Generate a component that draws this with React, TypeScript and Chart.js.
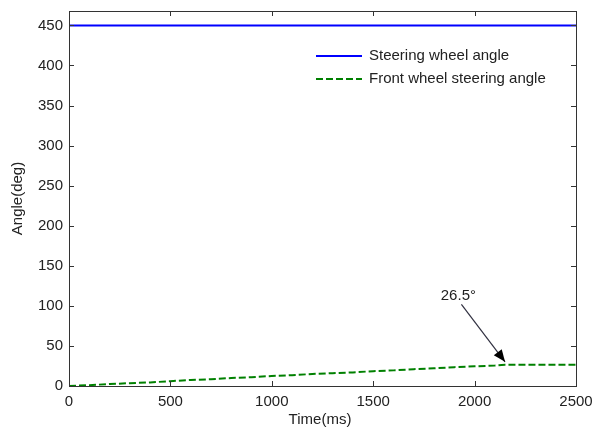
import { useEffect, useRef } from "react";
import { Chart, registerables } from "chart.js";

Chart.register(...registerables);

// Steering wheel input (held constant)
const wheelTime = [0, 2500];
const wheelAngle = [450, 450];

// Resulting front wheel steering angle
const frontTime = [0, 100, 200, 300, 400, 500, 600, 700, 800, 900, 1000, 1100, 1200, 1300, 1400, 1500, 1600, 1700, 1800, 1900, 2000, 2100, 2150, 2300, 2500];
const frontAngle = [0, 1, 2.5, 3.5, 4.5, 6, 7.5, 8.5, 10, 11, 12.5, 13.5, 15, 16, 17, 18.5, 19.5, 21, 22, 23.5, 24.5, 25.5, 26.5, 26.5, 26.5];

const xTicks = [0, 500, 1000, 1500, 2000, 2500];
const yTicks = [0, 50, 100, 150, 200, 250, 300, 350, 400, 450];

const seriesNames = ["Steering wheel angle", "Front wheel steering angle"];
const peakTime = 2150;
const peakValue = 26.5;
const peakLabel = "26.5°";

const FONT = "'Liberation Sans', Arial, sans-serif";
const FONT_SIZE = 15;
const AXIS = "#333333";
const TEXT = "#222222";
const BLUE = "#0000ff";
const GREEN = "#008000";
const DASH = [7, 3];

const framePlugin = {
  id: "frame",
  afterDraw(chart: any) {
    const { ctx, chartArea: a, scales } = chart;
    const xs = scales.x;
    const ys = scales.y;
    ctx.save();

    // axes box
    ctx.strokeStyle = AXIS;
    ctx.lineWidth = 1;
    ctx.strokeRect(Math.round(a.left) + 0.5, Math.round(a.top) + 0.5, Math.round(a.right - a.left), Math.round(a.bottom - a.top));

    // inward ticks on all four sides
    const tl = 5;
    ctx.beginPath();
    for (const v of xTicks) {
      const px = Math.round(xs.getPixelForValue(v)) + 0.5;
      ctx.moveTo(px, a.bottom);
      ctx.lineTo(px, a.bottom - tl);
      ctx.moveTo(px, a.top);
      ctx.lineTo(px, a.top + tl);
    }
    for (const v of yTicks) {
      const py = Math.round(ys.getPixelForValue(v)) + 0.5;
      ctx.moveTo(a.left, py);
      ctx.lineTo(a.left + tl, py);
      ctx.moveTo(a.right, py);
      ctx.lineTo(a.right - tl, py);
    }
    ctx.stroke();

    // axis titles
    ctx.fillStyle = TEXT;
    ctx.font = `${FONT_SIZE}px ${FONT}`;
    ctx.textAlign = "center";
    ctx.textBaseline = "middle";
    ctx.fillText("Time(ms)", 320, 420);
    ctx.save();
    ctx.translate(18, (a.top + a.bottom) / 2);
    ctx.rotate(-Math.PI / 2);
    ctx.fillText("Angle(deg)", 0, 0);
    ctx.restore();

    // legend
    const lx0 = 316;
    const lx1 = 362;
    const rows = [
      { y: 56, color: BLUE, dash: [] as number[] },
      { y: 79, color: GREEN, dash: DASH },
    ];
    ctx.textAlign = "left";
    rows.forEach((r, i) => {
      ctx.beginPath();
      ctx.setLineDash(r.dash);
      ctx.strokeStyle = r.color;
      ctx.lineWidth = 2;
      ctx.moveTo(lx0, r.y);
      ctx.lineTo(lx1, r.y);
      ctx.stroke();
      ctx.setLineDash([]);
      ctx.fillStyle = TEXT;
      ctx.fillText(seriesNames[i], 369, r.y);
    });

    // annotation arrow pointing at the settled value
    const tipX = xs.getPixelForValue(peakTime);
    const tipY = ys.getPixelForValue(peakValue) - 3;
    const sx = xs.getPixelForValue(1935);
    const sy = ys.getPixelForValue(102);
    ctx.strokeStyle = "#303040";
    ctx.fillStyle = "#000";
    ctx.lineWidth = 1.2;
    ctx.beginPath();
    ctx.moveTo(sx, sy);
    ctx.lineTo(tipX, tipY);
    ctx.stroke();
    const ang = Math.atan2(tipY - sy, tipX - sx);
    const hl = 12;
    const hw = 5;
    const bx = tipX - hl * Math.cos(ang);
    const by = tipY - hl * Math.sin(ang);
    ctx.beginPath();
    ctx.moveTo(tipX, tipY);
    ctx.lineTo(bx + hw * Math.sin(ang), by - hw * Math.cos(ang));
    ctx.lineTo(bx - hw * Math.sin(ang), by + hw * Math.cos(ang));
    ctx.closePath();
    ctx.fill();

    ctx.fillStyle = TEXT;
    ctx.textAlign = "center";
    ctx.fillText(peakLabel, xs.getPixelForValue(1920), ys.getPixelForValue(113));

    ctx.restore();
  },
};

export default function App() {
  const ref = useRef<HTMLCanvasElement>(null);

  useEffect(() => {
    document.body.style.margin = "0";
    const canvas = ref.current;
    if (!canvas) return;
    const chart = new Chart(canvas, {
      type: "line",
      data: {
        datasets: [
          {
            label: seriesNames[0],
            data: wheelTime.map((t, i) => ({ x: t, y: wheelAngle[i] })),
            borderColor: BLUE,
            borderWidth: 2,
            pointRadius: 0,
            tension: 0,
          },
          {
            label: seriesNames[1],
            data: frontTime.map((t, i) => ({ x: t, y: frontAngle[i] })),
            borderColor: GREEN,
            borderWidth: 2,
            borderDash: DASH,
            pointRadius: 0,
            tension: 0,
          },
        ],
      },
      options: {
        animation: false,
        responsive: false,
        maintainAspectRatio: false,
        layout: { padding: { top: 11, right: 24, left: 0, bottom: 0 } },
        plugins: { legend: { display: false }, tooltip: { enabled: false } },
        scales: {
          x: {
            type: "linear",
            min: 0,
            max: 2500,
            grid: { display: false, drawTicks: false },
            border: { display: false },
            afterFit: (s: any) => {
              s.height = 44;
              s.paddingLeft = 0;
              s.paddingRight = 0;
            },
            afterBuildTicks: (s: any) => {
              s.ticks = xTicks.map((v) => ({ value: v }));
            },
            ticks: {
              padding: 7,
              color: TEXT,
              maxRotation: 0,
              autoSkip: false,
              callback: (v: any) => String(v),
              font: { family: FONT, size: FONT_SIZE },
            },
          },
          y: {
            type: "linear",
            min: 0,
            max: 468,
            grid: { display: false, drawTicks: false },
            border: { display: false },
            afterFit: (s: any) => {
              s.width = 69;
              s.paddingTop = 0;
              s.paddingBottom = 0;
            },
            afterBuildTicks: (s: any) => {
              s.ticks = yTicks.map((v) => ({ value: v }));
            },
            ticks: {
              padding: 6,
              color: TEXT,
              autoSkip: false,
              callback: (v: any) => String(v),
              font: { family: FONT, size: FONT_SIZE },
            },
          },
        },
      },
      plugins: [framePlugin],
    });
    return () => chart.destroy();
  }, []);

  return <canvas ref={ref} width={600} height={430} style={{ display: "block" }} />;
}
